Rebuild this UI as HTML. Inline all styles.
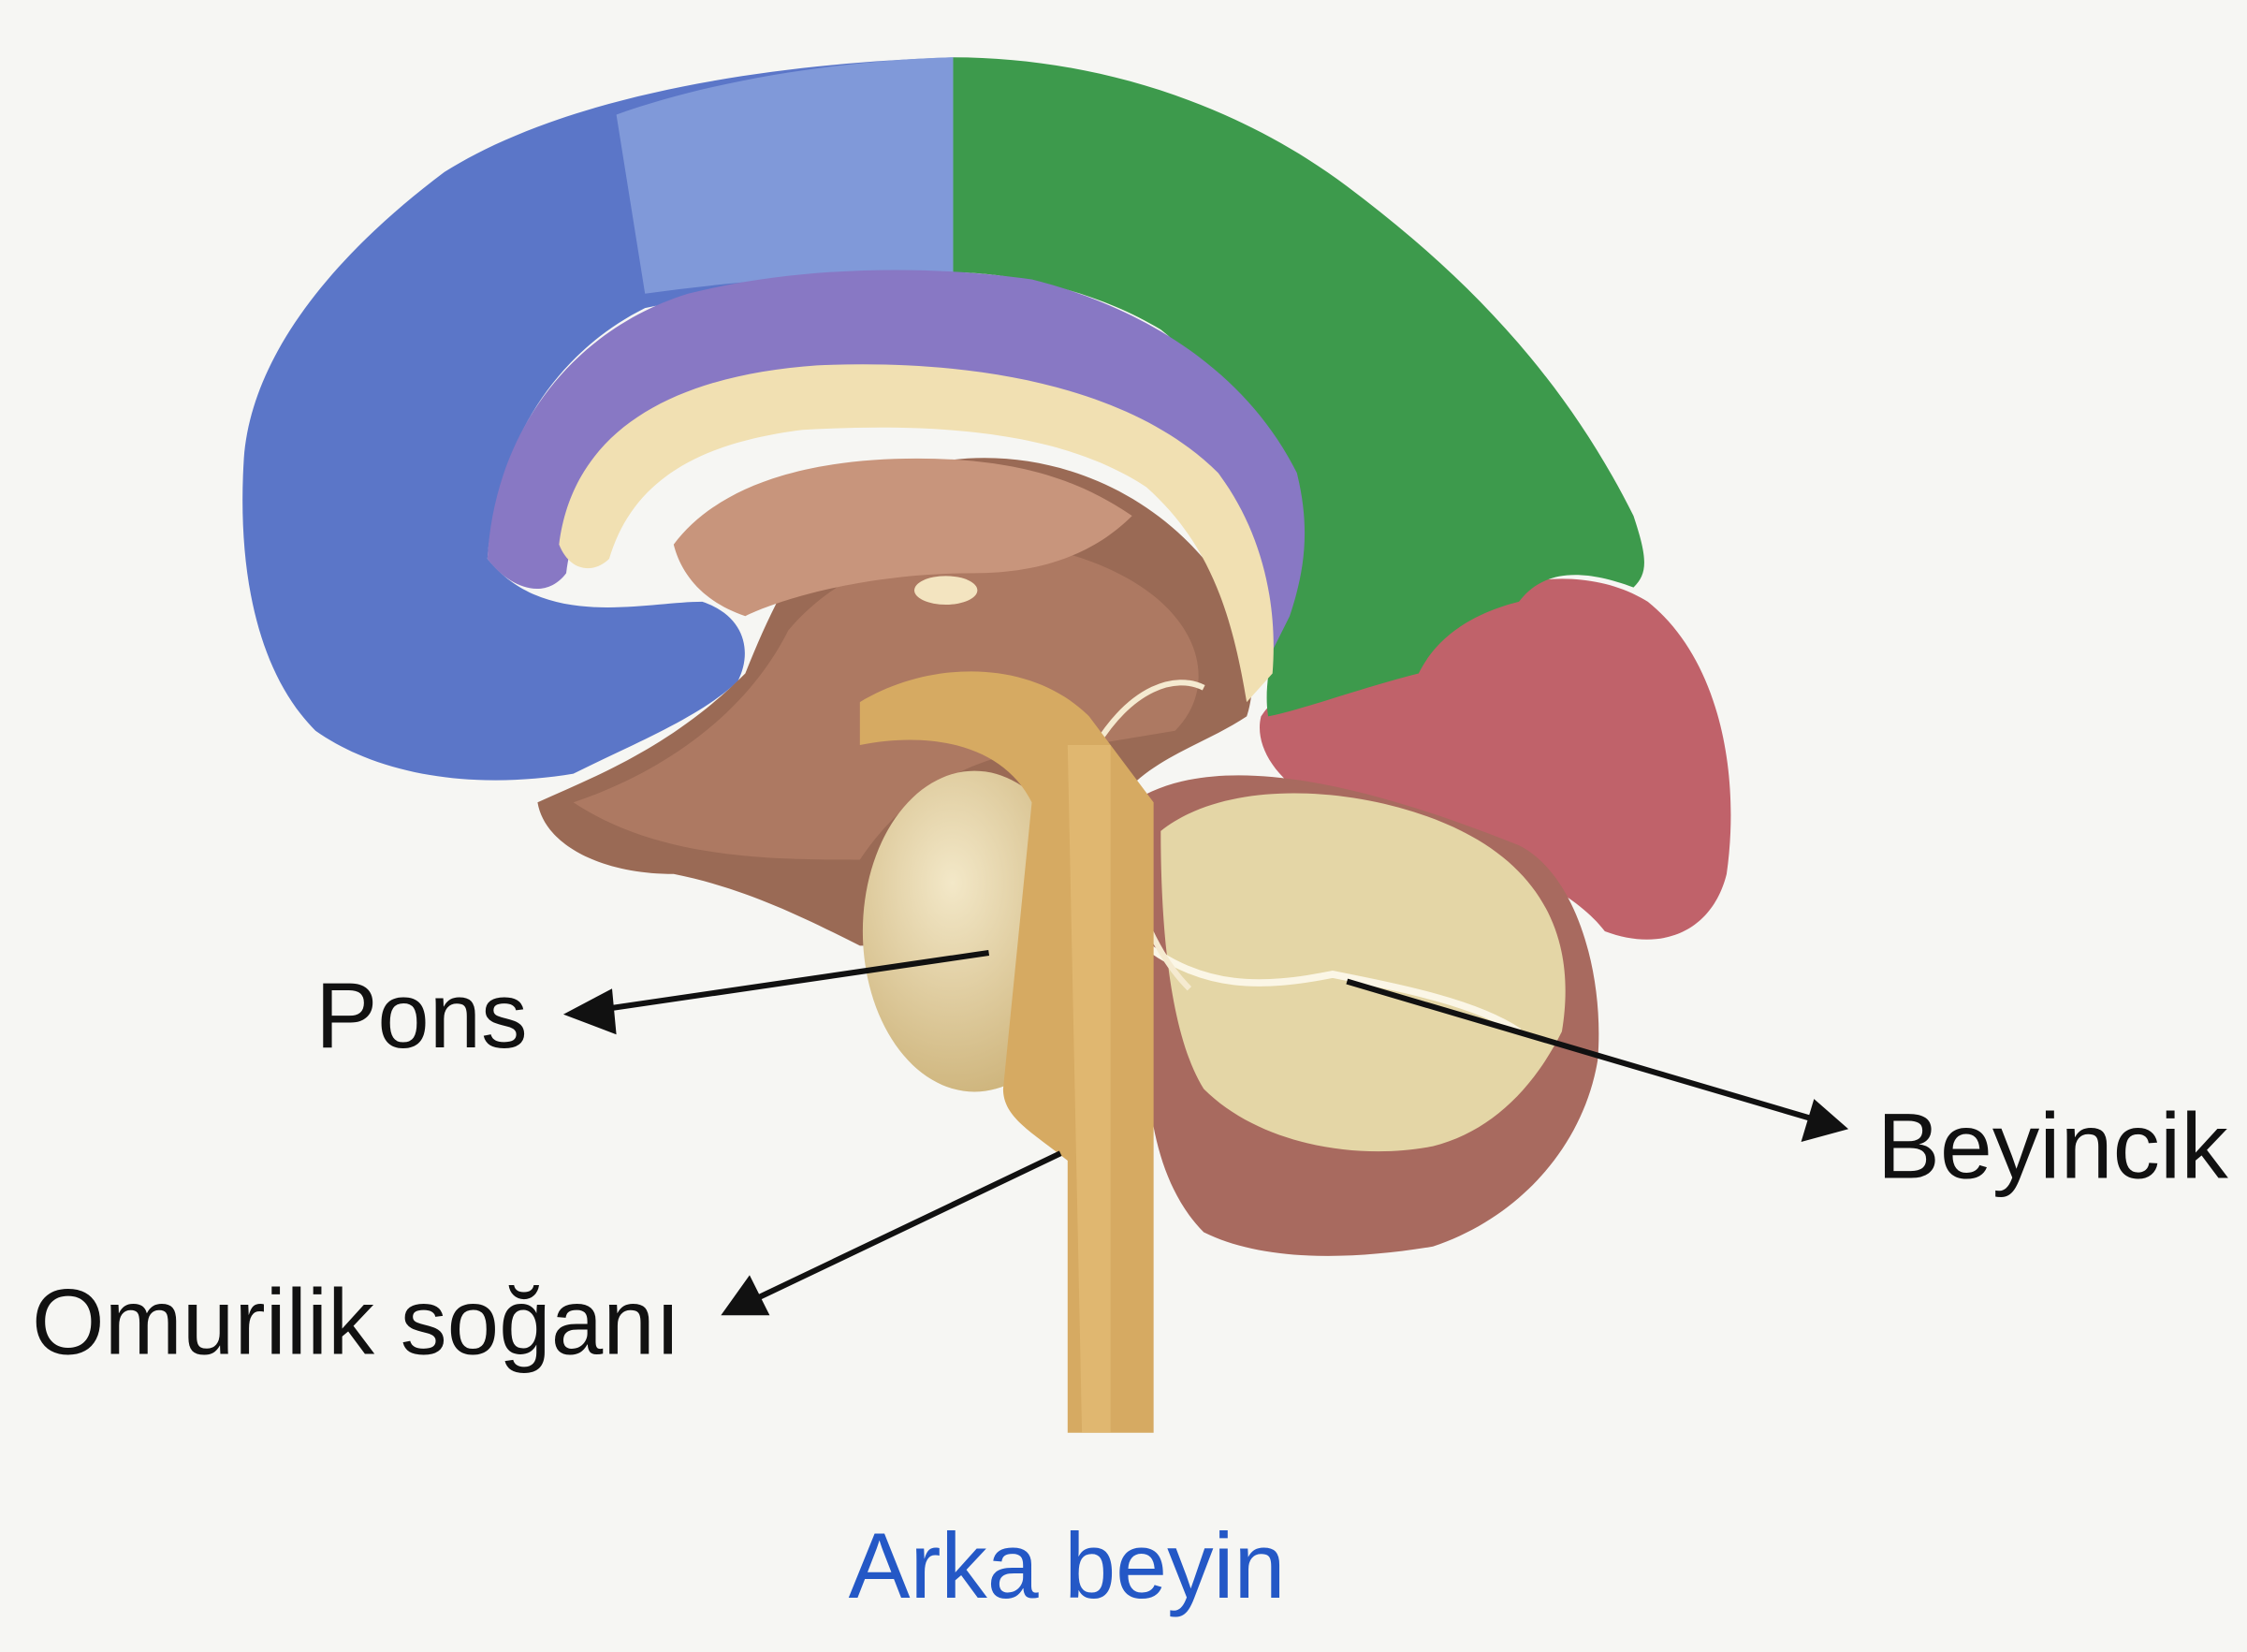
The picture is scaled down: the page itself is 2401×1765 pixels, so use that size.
<!DOCTYPE html>
<html><head><meta charset="utf-8"><style>
html,body{margin:0;padding:0;background:#f6f6f3;}
svg{display:block}
</style></head><body>
<svg width="2401" height="1765" viewBox="0 0 1568 1153" xmlns="http://www.w3.org/2000/svg">
<defs>
<radialGradient id="pons" cx="0.4" cy="0.35" r="0.7"><stop offset="0" stop-color="#f3e8c8"/><stop offset="1" stop-color="#cdb37a"/></radialGradient>
</defs>
<rect width="1568" height="1153" fill="#f6f6f3"/>
<path d="M880,500 C900,470 960,440 1010,430 C1050,400 1110,395 1150,420 C1200,460 1215,540 1205,610 C1195,650 1160,665 1120,650 C1090,610 1000,580 920,560 C890,545 875,520 880,500Z" fill="#c0626a"/>
<path d="M665,40 C760,40 860,70 940,130 C1020,190 1090,260 1140,360 C1150,390 1150,400 1140,410 C1100,395 1075,400 1060,420 C1020,430 1000,450 990,470 C950,480 910,495 885,500 C880,470 895,430 905,390 C890,320 860,270 810,230 C760,200 700,190 665,190Z" fill="#3d9a4c"/>
<path d="M665,40 L665,190 C600,190 520,200 450,215 C380,250 345,320 340,390 C380,440 450,420 490,420 C520,430 525,455 515,475 C490,500 440,520 400,540 C340,550 270,545 220,510 C180,470 165,400 170,320 C175,250 230,180 310,120 C390,70 520,45 665,40Z" fill="#5b76c8"/>
<path d="M430,80 C500,55 590,42 665,40 L665,190 C600,190 520,195 450,205Z" fill="#8aa3dd" opacity="0.8"/>
<path d="M340,390 C345,300 400,230 480,205 C560,185 650,185 720,195 C800,215 870,260 905,330 C915,370 910,400 900,430 L880,470 C870,400 850,330 780,290 C700,255 560,255 470,290 C420,320 400,360 395,400 C380,420 355,410 340,390Z" fill="#8878c4"/>
<path d="M375,560 C420,540 470,520 520,470 C540,420 560,380 600,340 C680,300 780,320 840,390 C870,430 880,470 870,500 C840,520 800,530 780,560 C760,600 770,640 760,660 L600,660 C560,640 520,620 470,610 C420,610 380,590 375,560Z" fill="#9a6a55"/>
<path d="M400,560 C460,540 520,500 550,440 C600,380 700,360 780,400 C840,430 850,480 820,510 L760,520 C700,520 640,540 600,600 C540,600 460,600 400,560Z" fill="#b58068" opacity="0.7"/>
<path d="M390,380 C400,300 470,262 570,255 C680,250 790,270 850,330 C880,370 892,420 888,470 L870,490 C860,430 845,380 800,340 C740,300 650,295 560,300 C480,310 440,340 425,390 C415,400 398,400 390,380Z" fill="#f1e0b2"/>
<path d="M470,380 C500,340 560,320 640,320 C720,320 760,340 790,360 C760,390 720,400 680,400 C600,400 540,420 520,430 C490,420 475,400 470,380Z" fill="#c8957c"/>
<ellipse cx="660" cy="412" rx="22" ry="10" fill="#f3e4c0"/>
<path d="M790,560 C850,520 960,550 1060,590 C1100,610 1120,680 1115,740 C1105,800 1060,850 1000,870 C940,880 880,880 840,860 C810,830 800,780 800,730 C795,680 785,620 790,560Z" fill="#a86a5f"/>
<path d="M810,580 C860,540 960,550 1020,580 C1080,610 1100,660 1090,720 C1070,760 1040,790 1000,800 C950,810 880,800 840,760 C815,720 810,640 810,580Z" fill="#e4d6a6"/>
<path d="M800,660 C840,690 880,690 930,680 C980,690 1030,700 1060,720" stroke="#fbf6e6" stroke-width="5" fill="none"/>
<path d="M765,520 C790,480 820,470 840,480 M770,520 C780,580 790,650 830,690" stroke="#f5ead0" stroke-width="4" fill="none"/>
<ellipse cx="680" cy="650" rx="78" ry="112" fill="url(#pons)"/>
<path d="M600,490 C650,460 720,460 760,500 L805,560 L805,1000 L745,1000 L745,810 C720,790 700,780 700,760 L720,560 C700,520 650,510 600,520Z" fill="#d6aa62"/>
<path d="M745,520 L775,520 L775,1000 L755,1000Z" fill="#e6c07a" opacity="0.6"/>
<g stroke="#111" stroke-width="4" fill="#111">
<line x1="690" y1="665" x2="410" y2="706"/>
<polygon points="393,708 427,690 430,722" stroke="none"/>
<line x1="740" y1="805" x2="520" y2="910"/>
<polygon points="503,918 523,890 537,918" stroke="none"/>
<line x1="940" y1="685" x2="1272" y2="783"/>
<polygon points="1290,788 1257,797 1266,767" stroke="none"/>
</g>
<g font-family="Liberation Sans, Arial, sans-serif" font-size="65" fill="#111">
<text x="220" y="731" textLength="148" lengthAdjust="spacingAndGlyphs">Pons</text>
<text x="22" y="945" textLength="453" lengthAdjust="spacingAndGlyphs">Omurilik soğanı</text>
<text x="1310" y="822" textLength="245" lengthAdjust="spacingAndGlyphs">Beyincik</text>
<text x="592" y="1115" fill="#2458c6" textLength="305" lengthAdjust="spacingAndGlyphs">Arka beyin</text>
</g>
</svg>
</body></html>
